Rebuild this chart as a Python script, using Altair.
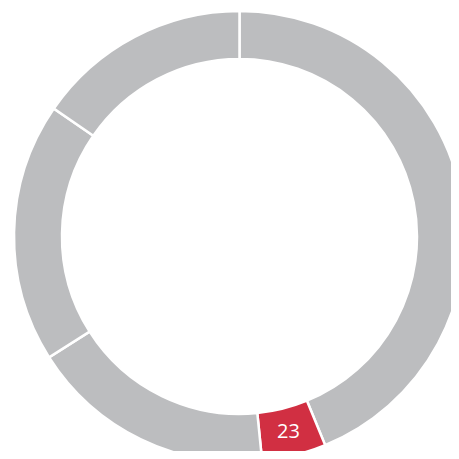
import altair as alt
import pandas as pd

values = [219, 23, 88, 93, 77]
kinds = ["gray", "red", "gray", "gray", "gray"]
labels = ["", "23", "", "", ""]
order = [0, 1, 2, 3, 4]

df = pd.DataFrame({"value": values, "kind": kinds, "label": labels, "idx": order})

base = alt.Chart(df).encode(
    theta=alt.Theta("value:Q", stack=True),
    order=alt.Order("idx:Q", sort="ascending"),
)

arc = base.mark_arc(
    innerRadius=177.5, outerRadius=225.5, stroke="white", strokeWidth=2.5,
    x=231.5, y=228.5
).encode(
    color=alt.Color("kind:N", scale=alt.Scale(domain=["gray", "red"], range=["#bcbdbf", "#d12f42"]), legend=None)
)

text = base.mark_text(
    radius=201.5, fontSize=20, color="white", font="Open Sans",
    x=231.5, y=228.5, align="center", baseline="middle"
).encode(text="label:N")

chart = (arc + text).properties(
    width=443, height=443, padding=0, autosize=alt.AutoSizeParams(type="none")
).configure_view(stroke=None)

chart.save("out.html", embed_options={"renderer": "svg", "actions": False})
